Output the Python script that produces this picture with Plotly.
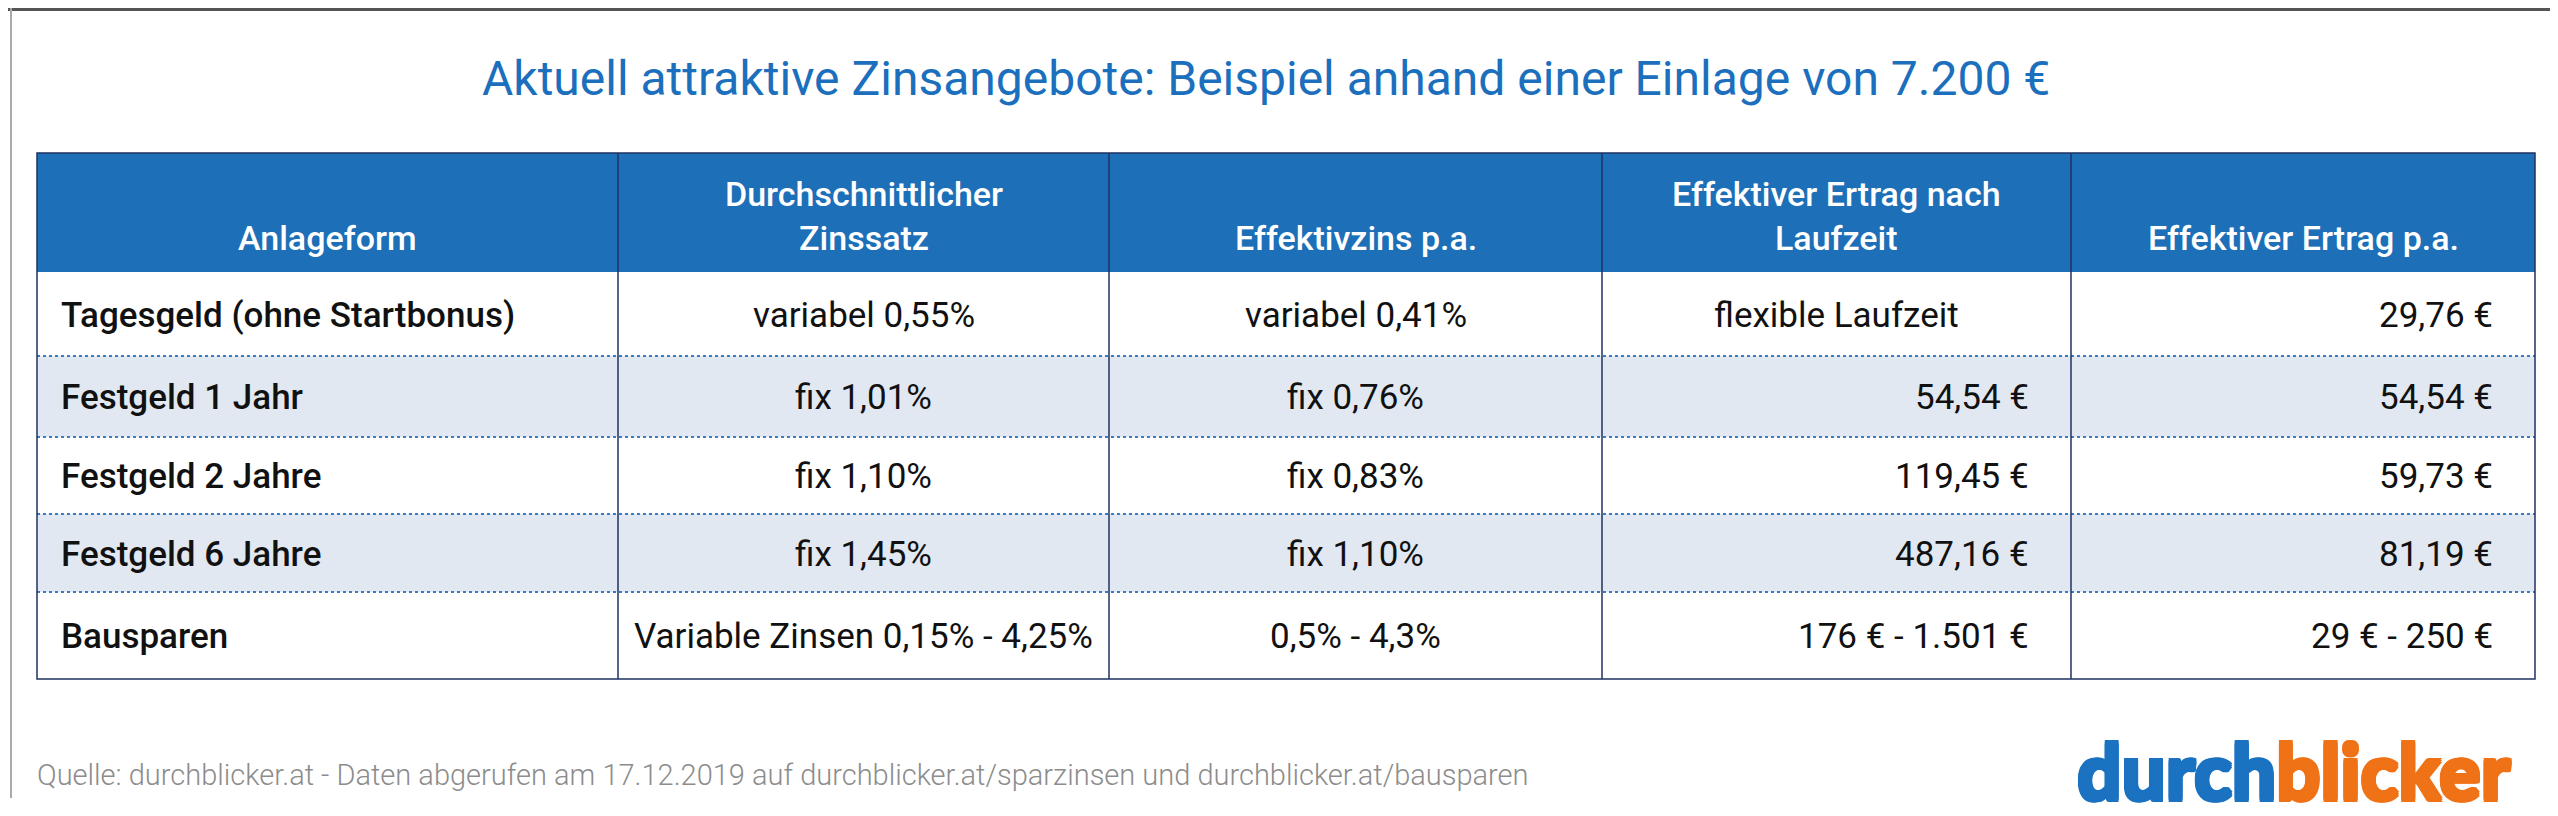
import plotly.graph_objects as go

# table content
headers = ["Anlageform", "Durchschnittlicher<br>Zinssatz", "Effektivzins p.a.",
           "Effektiver Ertrag nach<br>Laufzeit", "Effektiver Ertrag p.a."]
anlageform = ["Tagesgeld (ohne Startbonus)", "Festgeld 1 Jahr", "Festgeld 2 Jahre",
              "Festgeld 6 Jahre", "Bausparen"]
zinssatz = ["variabel 0,55%", "fix 1,01%", "fix 1,10%", "fix 1,45%",
            "Variable Zinsen 0,15% - 4,25%"]
effektivzins = ["variabel 0,41%", "fix 0,76%", "fix 0,83%", "fix 1,10%", "0,5% - 4,3%"]
ertrag_laufzeit = ["flexible Laufzeit", "54,54 €", "119,45 €", "487,16 €", "176 € - 1.501 €"]
ertrag_pa = ["29,76 €", "54,54 €", "59,73 €", "81,19 €", "29 € - 250 €"]

title = "Aktuell attraktive Zinsangebote: Beispiel anhand einer Einlage von 7.200 €"
source = ("Quelle: durchblicker.at - Daten abgerufen am 17.12.2019 auf "
          "durchblicker.at/sparzinsen und durchblicker.at/bausparen")

columns = [anlageform, zinssatz, effektivzins, ertrag_laufzeit, ertrag_pa]

# geometry (pixels)
W, H = 2558, 816
col_x = [29, 610, 1101, 1594, 2063, 2527]
row_y = [145, 264, 348, 429, 506, 584, 671]

BLUE = "#1d6fb8"
NAVY = "#1f3262"
STRIPE = "#e1e8f2"
DOT = "#3a7cc4"
FONT = "Roboto"
LOGO_BLUE = "#1a72c1"
LOGO_ORANGE = "#f07216"

fig = go.Figure()
shapes = []
annotations = []

# header band
shapes.append(dict(type="rect", x0=col_x[0], x1=col_x[-1], y0=row_y[0], y1=row_y[1],
                   fillcolor=BLUE, line_width=0, layer="below"))

# striped rows
for i in range(len(anlageform)):
    if i % 2 == 1:
        shapes.append(dict(type="rect", x0=col_x[0], x1=col_x[-1],
                           y0=row_y[i + 1], y1=row_y[i + 2],
                           fillcolor=STRIPE, line_width=0, layer="below"))

# dotted row separators
for y in row_y[2:-1]:
    shapes.append(dict(type="line", x0=col_x[0], x1=col_x[-1], y0=y, y1=y,
                       line=dict(color=DOT, width=2, dash="dot")))

# column dividers
for x in col_x[1:-1]:
    shapes.append(dict(type="line", x0=x, x1=x, y0=row_y[0], y1=row_y[-1],
                       line=dict(color=NAVY, width=1.5)))

# outer border
shapes.append(dict(type="rect", x0=col_x[0], x1=col_x[-1], y0=row_y[0], y1=row_y[-1],
                   line=dict(color=NAVY, width=1.5), fillcolor="rgba(0,0,0,0)"))

# screenshot frame
shapes.append(dict(type="line", x0=0, x1=W, y0=1.5, y1=1.5, line=dict(color="#555", width=3)))
shapes.append(dict(type="line", x0=3, x1=3, y0=0, y1=790, line=dict(color="#aaa", width=2)))

# header labels
for j, h in enumerate(headers):
    annotations.append(dict(x=(col_x[j] + col_x[j + 1]) / 2, y=252, text=h,
                            xanchor="center", yanchor="bottom", showarrow=False,
                            font=dict(family=FONT, size=34, color="white", weight=500)))

# body cells
for j, col in enumerate(columns):
    for i, val in enumerate(col):
        yc = (row_y[i + 1] + row_y[i + 2]) / 2 + 1
        if j == 0:
            x, anchor = col_x[0] + 22, "left"
        elif j >= 3 and "€" in val:
            x, anchor = col_x[j + 1] - 40, "right"
        else:
            x, anchor = (col_x[j] + col_x[j + 1]) / 2, "center"
        annotations.append(dict(x=x, y=yc, text=val, xanchor=anchor, yanchor="middle",
                                showarrow=False,
                                font=dict(family=FONT, size=35, color="#111",
                                          weight=500 if j == 0 else 400)))

# title
annotations.append(dict(x=1258, y=70, text=title,
                        xanchor="center", yanchor="middle", showarrow=False,
                        font=dict(family=FONT, size=48, color="#1b6fbd")))

# source
annotations.append(dict(x=27, y=767, text=source, xanchor="left", yanchor="middle",
                        showarrow=False,
                        font=dict(family=FONT, size=29, color="#8c8c8c", weight=300)))

# logo, two parts so each can be thickened in its own colour
def thick(c, d=1.6):
    return ", ".join(f"{dx}px {dy}px 0 {c}" for dx, dy in
                     [(d, 0), (-d, 0), (0, d), (0, -d), (d, d), (-d, -d), (d, -d), (-d, d)])

annotations.append(dict(x=2270, y=762, text="durch", xanchor="right", yanchor="middle",
                        showarrow=False,
                        font=dict(family="Lato", size=78, weight=900, color=LOGO_BLUE,
                                  shadow=thick(LOGO_BLUE))))
annotations.append(dict(x=2266, y=762, text="blicker", xanchor="left", yanchor="middle",
                        showarrow=False,
                        font=dict(family="Lato", size=78, weight=900, color=LOGO_ORANGE,
                                  shadow=thick(LOGO_ORANGE))))

fig.update_layout(
    width=W, height=H,
    margin=dict(l=0, r=0, t=0, b=0),
    paper_bgcolor="white", plot_bgcolor="white",
    xaxis=dict(range=[0, W], visible=False, fixedrange=True),
    yaxis=dict(range=[H, 0], visible=False, fixedrange=True),
    shapes=shapes, annotations=annotations,
    showlegend=False,
)

fig.write_html("out.html")
